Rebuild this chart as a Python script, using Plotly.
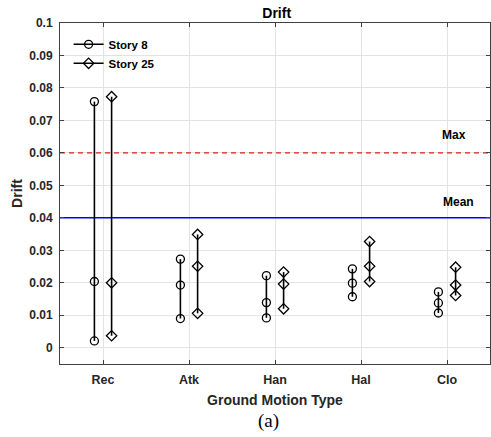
import plotly.graph_objects as go

categories = ["Rec", "Atk", "Han", "Hal", "Clo"]
story8 = [
    [0.0021, 0.0204, 0.0758],
    [0.0090, 0.0193, 0.0273],
    [0.0092, 0.0139, 0.0222],
    [0.0157, 0.0199, 0.0243],
    [0.0107, 0.0138, 0.0172],
]
story25 = [
    [0.0037, 0.0200, 0.0773],
    [0.0106, 0.0251, 0.0349],
    [0.0120, 0.0196, 0.0233],
    [0.0204, 0.0251, 0.0327],
    [0.0161, 0.0193, 0.0248],
]
max_drift = 0.06
mean_drift = 0.04
yticks = [0, 0.01, 0.02, 0.03, 0.04, 0.05, 0.06, 0.07, 0.08, 0.09, 0.1]
ytick_text = ["0", "0.01", "0.02", "0.03", "0.04", "0.05", "0.06", "0.07", "0.08", "0.09", "0.1"]

FONT = "Liberation Sans"
TXT = "#262626"

fig = go.Figure()

# reference lines
fig.add_trace(go.Scatter(x=[0.5, 5.5], y=[max_drift, max_drift], mode="lines",
                         line=dict(color="#d9201b", width=1.2, dash="5px,4px"),
                         showlegend=False, hoverinfo="skip"))
fig.add_trace(go.Scatter(x=[0.5, 5.5], y=[mean_drift, mean_drift], mode="lines",
                         line=dict(color="#0000ff", width=1.5),
                         showlegend=False, hoverinfo="skip"))

for i, cat in enumerate(categories):
    xc = i + 1
    fig.add_trace(go.Scatter(
        x=[xc - 0.1] * 3, y=story8[i], mode="lines+markers",
        line=dict(color="black", width=1.6),
        marker=dict(symbol="circle-open", size=8, color="black", line=dict(width=1.3)),
        name="<b>Story 8</b>", legendgroup="s8", showlegend=(i == 0)))
    fig.add_trace(go.Scatter(
        x=[xc + 0.1] * 3, y=story25[i], mode="lines+markers",
        line=dict(color="black", width=1.6),
        marker=dict(symbol="diamond-open", size=8, color="black", line=dict(width=1.3)),
        name="<b>Story 25</b>", legendgroup="s25", showlegend=(i == 0)))

fig.add_annotation(x=5.08, y=0.0656, xref="x", yref="y", text="<b>Max</b>",
                   showarrow=False, font=dict(family=FONT, size=12, color="black"))
fig.add_annotation(x=5.13, y=0.045, xref="x", yref="y", text="<b>Mean</b>",
                   showarrow=False, font=dict(family=FONT, size=12, color="black"))
fig.add_annotation(x=(268 - 60) / 430, y=(364 - 421) / 341, xref="paper", yref="paper",
                   text="(a)", showarrow=False, yanchor="middle",
                   font=dict(family="Liberation Serif", size=19, color="black"))

fig.update_layout(
    width=491, height=437,
    margin=dict(l=60, r=1, t=23, b=73),
    paper_bgcolor="white", plot_bgcolor="white",
    title=dict(text="<b>Drift</b>", x=276.7 / 491, xref="container", xanchor="center",
               y=1 - 13 / 437, yref="container", yanchor="middle",
               font=dict(family=FONT, size=14, color="black")),
    legend=dict(x=0.02, y=0.98, xanchor="left", yanchor="top",
                bgcolor="rgba(255,255,255,0)", borderwidth=0,
                font=dict(family=FONT, size=11.5, color="black"),
                tracegroupgap=0, itemwidth=30),
    showlegend=True,
)

fig.update_xaxes(range=[0.5, 5.5], tickmode="array", tickvals=[1, 2, 3, 4, 5],
                 ticktext=[f"<b>{c}</b>" for c in categories],
                 showgrid=True, gridcolor="#e3e3e3", gridwidth=1, zeroline=False,
                 showline=True, linecolor="#404040", linewidth=1, mirror="ticks",
                 ticks="inside", ticklen=4, tickcolor="#404040",
                 tickfont=dict(family=FONT, size=12.5, color=TXT), ticklabelstandoff=4,
                 title=dict(text="<b>Ground Motion Type</b>", standoff=9,
                            font=dict(family=FONT, size=14, color=TXT)))
fig.update_yaxes(range=[-0.005, 0.1], tickmode="array", tickvals=yticks,
                 ticktext=[f"<b>{t}</b>" for t in ytick_text],
                 showgrid=True, gridcolor="#e3e3e3", gridwidth=1, zeroline=False,
                 showline=True, linecolor="#404040", linewidth=1, mirror="ticks",
                 ticks="inside", ticklen=4, tickcolor="#404040",
                 tickfont=dict(family=FONT, size=12, color=TXT), ticklabelstandoff=4,
                 title=dict(text="<b>Drift</b>", standoff=3,
                            font=dict(family=FONT, size=14, color=TXT)))

fig.write_html("out.html")
